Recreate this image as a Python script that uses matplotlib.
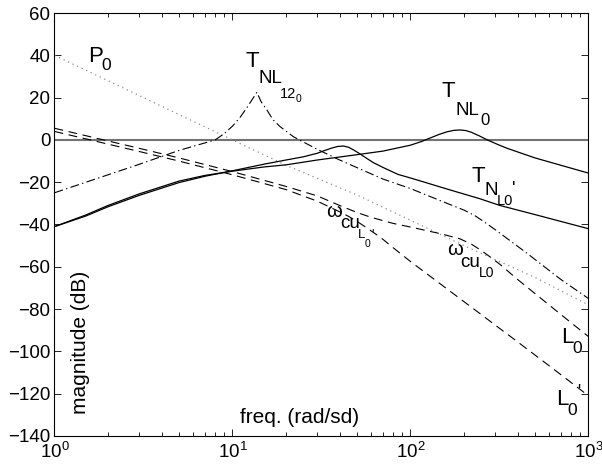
import matplotlib
matplotlib.use("Agg")
import matplotlib.pyplot as plt

plt.rcParams["font.family"] = ["Liberation Sans", "DejaVu Sans"]
plt.rcParams["mathtext.fontset"] = "custom"
plt.rcParams["mathtext.rm"] = "Liberation Sans"
plt.rcParams["mathtext.it"] = "Liberation Sans"
plt.rcParams["mathtext.default"] = "regular"

# P0 plant (dotted)
p0_w = [1, 2, 5, 10, 20, 50, 100, 200, 500, 1000]
p0_db = [40, 28, 12, 0, -12, -26, -38, -50, -65, -78]

# L0 loop (dashed, upper)
l0_w = [1, 2, 3, 5, 10, 20, 30, 40, 50, 60, 80, 100, 150, 190, 220, 250, 280, 320, 400, 600, 800, 1000]
l0_db = [5.5, -0.5, -4, -8.5, -15, -22, -26.5, -31, -34.3, -36.6, -39.5, -41.2, -44.5, -46.8, -49.3, -52.3, -55.3, -59, -66, -78, -86.5, -93]

# L0' loop (dashed, lower)
l0p_w = [1, 2, 3, 5, 10, 20, 30, 40, 45, 50, 55, 60, 65, 70, 80, 100, 200, 400, 700, 1000]
l0p_db = [4, -2, -5.5, -10, -16.5, -23.5, -29, -34, -36.2, -38.5, -40.8, -43, -45, -47, -51, -57.5, -76.5, -95.5, -111, -121]

# T_NL12_0 (dash-dot)
t12_w = [1, 2, 3, 5, 8, 9, 10, 11, 12, 13, 13.7, 14.5, 15.6, 16.9, 18.5, 22, 30, 40, 70, 100, 150, 200, 230, 260, 300, 450, 700, 1000]
t12_db = [-25, -16.5, -11.5, -5, 0, 3, 6.5, 10.5, 15, 19.5, 22.5, 18, 14.2, 9.5, 6.3, 1.5, -4.5, -9.5, -18.5, -23, -29, -33.2, -35.8, -38.8, -42.5, -53.5, -66, -75]

# T_NL0 (solid, peak near 190)
tnl_w = [1, 1.5, 2, 3, 5, 7, 10, 15, 20, 30, 50, 70, 100, 115, 130, 145, 160, 175, 190, 205, 220, 245, 270, 310, 350, 500, 700, 1000]
tnl_db = [-41, -35.5, -31, -25.5, -19.5, -16.8, -14.8, -12.8, -11.8, -9.5, -7, -5.3, -2.5, -0.8, 1, 2.6, 3.8, 4.5, 4.7, 4.4, 3.6, 1.8, 0, -2.2, -4, -8.5, -12, -15.7]

# T_N_L0' (solid, peak near 42)
tnlp_w = [1, 1.5, 2, 3, 5, 7, 10, 15, 20, 25, 30, 33, 36, 39, 42, 45, 48, 52, 56, 62, 70, 85, 100, 166, 245, 318, 500, 1000]
tnlp_db = [-41, -36, -31.6, -26.2, -20.2, -17.2, -14.6, -11.5, -9.5, -8, -6.3, -5, -3.9, -3.1, -2.9, -3.5, -4.8, -6.6, -8.4, -10.8, -13, -16.3, -18, -23.6, -27.8, -31, -35.3, -42]

y_ticks = list(range(-140, 61, 20))


def put_label(ax, x, y, parts):
    # parts: (text, size, dx px, dy px down) relative to the base letter
    for txt, size, dx, dy in parts:
        ax.annotate(txt, (x, y), xytext=(dx * 0.72, -dy * 0.72), textcoords="offset points",
                    fontsize=size, ha="left", va="baseline")


def draw():
    fig = plt.figure(figsize=(6.02, 4.66), dpi=100)
    ax = fig.add_axes([0.0905, 0.0644, 0.887, 0.9077])

    ax.axhline(0, color="0.45", lw=1.5)
    ax.plot(p0_w, p0_db, color="0.55", lw=0.9, linestyle=(0, (1, 3)))
    ax.plot(l0_w, l0_db, color="k", lw=0.8, linestyle=(0, (8, 5)))
    ax.plot(l0p_w, l0p_db, color="k", lw=0.8, linestyle=(0, (8, 5)))
    ax.plot(t12_w, t12_db, color="k", lw=0.8, linestyle=(0, (8, 3, 1.2, 3)))
    ax.plot(tnl_w, tnl_db, color="k", lw=0.9)
    ax.plot(tnlp_w, tnlp_db, color="k", lw=0.9)

    ax.set_xscale("log")
    ax.set_xlim(1, 1000)
    ax.set_ylim(-140, 60)
    ax.set_yticks(y_ticks)
    ax.tick_params(which="both", direction="in", top=True, right=True, labelsize=13.5, width=0.6)
    ax.tick_params(which="major", length=5)
    ax.tick_params(which="minor", length=3)
    ax.tick_params(axis="y", pad=3)
    ax.tick_params(axis="x", pad=4)
    for s in ax.spines.values():
        s.set_linewidth(0.8)

    ax.text(0.0478, 0.222, "magnitude (dB)", transform=ax.transAxes, rotation=90,
            ha="center", va="center", fontsize=15)
    ax.text(0.347, 0.0307, "freq. (rad/sd)", transform=ax.transAxes,
            ha="left", va="baseline", fontsize=15)

    put_label(ax, 1.54, 37.0, [("P", 16, 0, 0), ("0", 12.5, 13.5, 8.3)])
    put_label(ax, 11.9, 34.7, [("T", 16, 0, 0), ("NL", 13.5, 12.7, 16.3), ("12", 10.5, 34, 31.3), ("0", 7.5, 50, 35.3)])
    put_label(ax, 149.7, 20.5, [("T", 16, 0, 0), ("NL", 13.5, 14, 18.3), ("0", 12, 38.3, 28.3)])
    put_label(ax, 220.7, -19.7, [("T", 16, 0, 0), ("N", 13.5, 13.3, 13.3), ("L0", 10.5, 25, 23.3), ("'", 13.5, 40.5, 12)])
    put_label(ax, 33.8, -36.3, [("\u03c9", 14.5, 0, 0), ("cu", 13.5, 13.3, 11.6), ("L", 9.5, 31.6, 21.6),
                                ("0", 7.5, 37.6, 30), ("'", 9.5, 45, 20.3)])
    put_label(ax, 160.3, -54.4, [("\u03c9", 14.5, 0, 0), ("cu", 13.5, 13.3, 11.7), ("L0", 10, 31.6, 21.7)])
    put_label(ax, 701, -96, [("L", 16, 0, 0), ("0", 12.5, 11.5, 10)])
    put_label(ax, 656, -125.3, [("L", 16, 0, 0), ("0", 12.5, 11.5, 10), ("'", 12, 21.5, -8.5)])

    fig.savefig("out.png", dpi=100, facecolor="white")


if __name__ == "__main__":
    draw()
